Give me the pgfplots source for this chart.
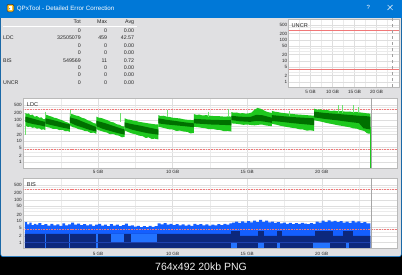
\documentclass[border=0pt]{standalone}
\usepackage{fontspec}
\setmainfont{Liberation Sans}
\usepackage{pgfplots}
\pgfplotsset{compat=1.18}
\definecolor{winblue}{RGB}{0,120,215}
\definecolor{body}{RGB}{224,224,226}
\definecolor{ldclight}{RGB}{30,200,30}
\definecolor{ldcdark}{RGB}{0,112,0}
\definecolor{ldcspike}{RGB}{110,225,110}
\definecolor{bisblue}{RGB}{20,95,255}
\definecolor{bisnavy}{RGB}{12,40,125}
\definecolor{bisbright}{RGB}{35,115,255}
\definecolor{bisline}{RGB}{30,65,175}
\definecolor{gridc}{RGB}{222,222,222}
\definecolor{gridm}{RGB}{235,235,235}
\definecolor{redl}{RGB}{240,120,120}
\definecolor{iconyellow}{RGB}{255,196,40}
\newcommand\fs[1]{\fontsize{#1}{#1}\selectfont}
\newcommand\rect[5]{\addplot[fill=#1,draw=none] coordinates {(#2,#4)(#2,#5)(#3,#5)(#3,#4)};}
\begin{document}
\begin{tikzpicture}[x=1pt,y=1pt]
\useasboundingbox (0,0) rectangle (402,275);
\fill[black] (0,0) rectangle (402,275);
\filldraw[fill=body, draw=winblue, line width=0.6pt, rounded corners=2.5pt] (0.6,18.3) rectangle (401.4,274);
\fill[winblue] (0,257) rectangle (402,275);
% icon
\filldraw[fill=iconyellow, draw=black!80, line width=0.5pt, rounded corners=1.2pt] (7,263.2) rectangle (13.8,270.6);
\fill[white] (8.6,265) rectangle (12.2,268.6);
\fill[black!80] (9.6,266.2) circle (0.5);
\node[anchor=base west, text=white, font=\fs{6.2}, inner sep=0pt] at (16.7,264.5) {QPxTool - Detailed Error Correction};
\node[text=white, font=\fs{6}, inner sep=0pt] at (368.3,267.5) {?};
\draw[white, line width=0.5pt] (387.6,265) -- (392.6,270) (387.6,270) -- (392.6,265);
% table
\draw[white, line width=0.6pt] (3,248.8) -- (137,248.8);
\begin{scope}[font=\fs{5.3}, text=black!85, inner sep=0pt]
\node[anchor=base east] at (81,251.4) {Tot};
\node[anchor=base east] at (107.3,251.4) {Max};
\node[anchor=base east] at (134.3,251.4) {Avg};
\foreach \yy/\lab/\tot/\mx/\av in {242.4//0/0/0.00, 235.1/LDC/32505079/459/42.57, 227.8//0/0/0.00, 220.4//0/0/0.00, 212.8/BIS/549569/11/0.72, 205.4//0/0/0.00, 198.1//0/0/0.00, 190.8/UNCR/0/0/0.00}{
 \node[anchor=base west] at (3,\yy) {\lab};
 \node[anchor=base east] at (81,\yy) {\tot};
 \node[anchor=base east] at (107.3,\yy) {\mx};
 \node[anchor=base east] at (134.3,\yy) {\av};
}
\end{scope}
% caption
\node[text=gray!12, font=\fs{10.5}, inner sep=0pt] at (201,8.5) {764x492 20kb PNG};
% UNCR
\begin{axis}[scale only axis, anchor=south west, at={(288.5pt,187.7pt)}, width=110.5pt, height=68.3pt,
 ymode=log, xmin=0, xmax=25.1, ymin=0.55, ymax=1000,
 axis background/.style={fill=white},
 xtick={5,10,15,20}, xticklabels={5 GB,10 GB,15 GB,20 GB},
 minor xtick={2.5,7.5,12.5,17.5,22.5},
 ytick={1,2,5,10,20,50,100,200,500}, yticklabels={1,2,5,10,20,50,100,200,500},
 minor ytick={3,4,30,40,300,400},
 xmajorgrids, xminorgrids, ymajorgrids, yminorgrids,
 major grid style={gridc, line width=0.35pt},
 minor grid style={gridm, line width=0.3pt},
 major tick length=0pt, minor tick length=0pt,
 axis line style={draw=gray!55, line width=0.4pt},
 ticklabel style={font=\fs{4.6}, text=black!85},
 xticklabel style={inner sep=0pt, anchor=north, yshift=-3.2pt},
 yticklabel style={inner sep=0pt, xshift=-1pt},
 /pgf/number format/assume math mode=true]
\addplot[redl, line width=0.45pt] coordinates {(0,300)(25.1,300)};
\addplot[redl, line width=0.45pt] coordinates {(0,4)(25.1,4)};
\addplot[gray!75, dashed, line width=0.45pt] coordinates {(23.45,0.3)(23.45,2000)};
\node[anchor=north west, inner sep=0pt, font=\fs{5.6}, text=black!85, xshift=3pt, yshift=-4pt] at (rel axis cs:0,1) {UNCR};
\end{axis}
% LDC
\begin{axis}[scale only axis, anchor=south west, at={(23.5pt,107.1pt)}, width=373.5pt, height=69.4pt,
 ymode=log, xmin=0, xmax=25.05, ymin=0.55, ymax=1000,
 axis background/.style={fill=white},
 xtick={5,10,15,20}, xticklabels={5 GB,10 GB,15 GB,20 GB},
 minor xtick={2.5,7.5,12.5,17.5,22.5},
 ytick={1,2,5,10,20,50,100,200,500}, yticklabels={1,2,5,10,20,50,100,200,500},
 minor ytick={3,4,30,40,300,400},
 xmajorgrids, xminorgrids, ymajorgrids, yminorgrids,
 major grid style={gridc, line width=0.35pt},
 minor grid style={gridm, line width=0.3pt},
 major tick length=0pt, minor tick length=0pt,
 axis line style={draw=gray!55, line width=0.4pt},
 ticklabel style={font=\fs{4.6}, text=black!85},
 xticklabel style={inner sep=0pt, anchor=north, yshift=-2.6pt},
 yticklabel style={inner sep=0pt, xshift=-1.6pt},
 /pgf/number format/assume math mode=true]
\addplot[redl, dash pattern=on 1pt off 0.6pt, line width=0.5pt] coordinates {(0,300)(25.05,300)};
\addplot[redl, dash pattern=on 1pt off 0.6pt, line width=0.5pt] coordinates {(0,4)(25.05,4)};
% light band
\addplot[fill=ldclight, draw=none] coordinates {(0.12,210)(0.25,190)(0.35,200)(0.45,165)(0.6,175)(0.75,140)(0.9,150)(1.05,125)(1.2,130)(1.35,105)(1.46,110)(1.46,33)(1.35,36)(1.2,34)(1.05,40)(0.9,38)(0.75,44)(0.6,42)(0.45,48)(0.3,46)(0.12,55)};
\addplot[fill=ldclight, draw=none] coordinates {(1.46,175)(1.6,165)(1.75,150)(1.9,140)(2.05,125)(2.2,120)(2.4,105)(2.6,95)(2.8,80)(2.95,75)(3.11,65)(3.11,27)(2.95,30)(2.8,29)(2.6,34)(2.4,33)(2.2,38)(2.0,37)(1.8,42)(1.6,45)(1.46,50)};
\addplot[fill=ldclight, draw=none] coordinates {(3.11,200)(3.3,180)(3.5,160)(3.7,150)(3.9,125)(4.1,115)(4.3,95)(4.5,85)(4.7,70)(4.89,65)(4.89,22)(4.7,25)(4.5,24)(4.3,29)(4.1,30)(3.9,34)(3.7,36)(3.5,42)(3.3,45)(3.11,55)};
\addplot[fill=ldclight, draw=none] coordinates {(4.89,140)(5.05,125)(5.25,120)(5.45,105)(5.65,95)(5.85,80)(6.05,75)(6.25,62)(6.45,58)(6.6,50)(6.78,48)(6.78,16)(6.6,15)(6.4,18)(6.2,19)(6.0,22)(5.8,21)(5.6,25)(5.4,27)(5.2,30)(5.0,33)(4.89,38)};
\addplot[fill=ldclight, draw=none] coordinates {(6.78,118)(6.95,105)(7.15,100)(7.35,92)(7.55,88)(7.75,80)(8.0,75)(8.25,70)(8.5,66)(8.75,62)(9.04,60)(9.04,12)(8.8,13)(8.6,12.5)(8.4,15)(8.2,14)(8.0,17)(7.75,18)(7.5,21)(7.25,23)(7.0,27)(6.78,32)};
\addplot[fill=ldclight, draw=none] coordinates {(9.04,165)(9.2,150)(9.4,155)(9.6,140)(9.8,135)(10.0,125)(10.25,120)(10.5,115)(10.75,105)(11.0,100)(11.2,98)(11.42,95)(11.42,24)(11.2,23)(11.0,27)(10.75,28)(10.5,31)(10.25,30)(10.0,35)(9.75,36)(9.5,40)(9.25,44)(9.04,47)};
\addplot[fill=ldclight, draw=none] coordinates {(11.42,185)(11.6,170)(11.8,175)(12.0,160)(12.25,165)(12.5,155)(12.75,150)(13.0,150)(13.25,145)(13.5,140)(13.75,145)(13.94,140)(13.94,28)(13.7,30)(13.45,29)(13.2,33)(12.95,34)(12.7,37)(12.45,36)(12.2,40)(11.95,42)(11.7,45)(11.42,47)};
\addplot[fill=ldclight, draw=none] coordinates {(13.94,230)(14.1,215)(14.3,220)(14.5,200)(14.7,205)(14.9,195)(15.1,200)(15.3,220)(15.5,300)(15.7,360)(15.9,330)(16.1,280)(16.3,240)(16.5,220)(16.66,210)(16.66,50)(16.45,52)(16.2,55)(16.0,60)(15.75,58)(15.5,55)(15.25,57)(15.0,60)(14.75,58)(14.5,62)(14.25,65)(13.94,68)};
\addplot[fill=ldclight, draw=none] coordinates {(16.66,260)(16.85,240)(17.05,230)(17.25,215)(17.5,205)(17.75,195)(18.0,190)(18.25,180)(18.5,175)(18.75,170)(19.0,165)(19.25,160)(19.5,155)(19.5,30)(19.25,32)(19.0,31)(18.75,35)(18.5,36)(18.25,40)(18.0,42)(17.75,45)(17.5,48)(17.25,52)(17.0,58)(16.66,65)};
\addplot[fill=ldclight, draw=none] coordinates {(19.5,330)(19.7,300)(19.9,310)(20.1,280)(20.35,290)(20.6,260)(20.85,270)(21.1,250)(21.35,255)(21.6,240)(21.85,245)(22.1,230)(22.35,235)(22.6,220)(22.85,210)(23.05,200)(23.27,195)(23.27,22)(23.05,23)(22.85,30)(22.6,33)(22.35,38)(22.1,40)(21.85,45)(21.6,48)(21.35,52)(21.1,55)(20.85,60)(20.6,65)(20.35,70)(20.1,78)(19.85,85)(19.5,95)};
% dark band
\addplot[fill=ldcdark, draw=none] coordinates {(0.12,140)(0.5,120)(0.9,100)(1.2,88)(1.46,80)(1.46,48)(1.1,55)(0.7,62)(0.3,72)(0.12,80)};
\addplot[fill=ldcdark, draw=none] coordinates {(1.46,117)(1.9,100)(2.3,85)(2.7,70)(3.11,60)(3.11,37)(2.6,43)(2.1,52)(1.7,60)(1.46,68)};
\addplot[fill=ldcdark, draw=none] coordinates {(3.11,130)(3.6,105)(4.0,80)(4.5,58)(4.89,45)(4.89,28)(4.4,34)(3.9,45)(3.5,55)(3.11,75)};
\addplot[fill=ldcdark, draw=none] coordinates {(4.89,90)(5.4,72)(5.9,55)(6.4,42)(6.78,35)(6.78,20)(6.3,24)(5.8,30)(5.3,38)(4.89,50)};
\addplot[fill=ldcdark, draw=none] coordinates {(6.78,75)(7.3,62)(7.9,52)(8.5,42)(9.04,35)(9.04,20)(8.4,23)(7.8,28)(7.3,34)(6.78,45)};
\addplot[fill=ldcdark, draw=none] coordinates {(9.04,117)(9.6,100)(10.2,88)(10.8,76)(11.42,68)(11.42,45)(10.8,50)(10.2,55)(9.6,60)(9.04,68)};
\addplot[fill=ldcdark, draw=none] coordinates {(11.42,110)(12.0,105)(12.6,100)(13.3,97)(13.94,95)(13.94,55)(13.3,58)(12.6,60)(12.0,64)(11.42,68)};
\addplot[fill=ldcdark, draw=none] coordinates {(13.94,155)(14.5,140)(15.2,135)(15.6,170)(16.0,165)(16.66,125)(16.66,72)(16.0,85)(15.6,88)(15.2,80)(14.5,85)(13.94,97)};
\addplot[fill=ldcdark, draw=none] coordinates {(16.66,166)(17.3,150)(18.0,135)(18.8,125)(19.5,117)(19.5,56)(18.8,62)(18.0,70)(17.3,80)(16.66,88)};
\addplot[fill=ldcdark, draw=none] coordinates {(19.5,240)(20.2,210)(21.0,190)(21.8,170)(22.5,155)(22.9,150)(23.27,140)(23.27,35)(22.8,40)(22.5,70)(21.8,80)(21.0,95)(20.2,110)(19.5,130)};
% spikes
\addplot[ldcspike, line width=0.5pt, unbounded coords=jump] coordinates {(0.12,20)(0.12,60) (nan,nan) (1.48,240)(1.48,120) (nan,nan) (3.15,290)(3.15,150) (nan,nan) (6.5,200)(6.5,80) (nan,nan) (9.64,290)(9.64,130) (nan,nan) (12.4,240)(12.4,140) (nan,nan) (13.74,330)(13.74,140) (nan,nan) (17.8,260)(17.8,150) (nan,nan) (21.1,490)(21.1,200) (nan,nan) (21.4,480)(21.4,200) (nan,nan) (22.1,490)(22.1,200) (nan,nan) (22.45,400)(22.45,200)};
\addplot[gray!70, line width=0.5pt] coordinates {(23.3,0.3)(23.3,2000)};
\addplot[ldclight, line width=0.6pt] coordinates {(23.27,45)(23.27,0.3)};
\node[anchor=north west, inner sep=0pt, font=\fs{5.6}, text=black!85, xshift=3.2pt, yshift=-4.2pt] at (rel axis cs:0,1) {LDC};
\end{axis}
% BIS
\begin{axis}[scale only axis, anchor=south west, at={(23.5pt,27pt)}, width=373.5pt, height=69.5pt,
 ymode=log, xmin=0, xmax=25.05, ymin=0.55, ymax=1000,
 axis background/.style={fill=white},
 xtick={5,10,15,20}, xticklabels={5 GB,10 GB,15 GB,20 GB},
 minor xtick={2.5,7.5,12.5,17.5,22.5},
 ytick={1,2,5,10,20,50,100,200,500}, yticklabels={1,2,5,10,20,50,100,200,500},
 minor ytick={3,4,30,40,300,400},
 xmajorgrids, xminorgrids, ymajorgrids, yminorgrids,
 major grid style={gridc, line width=0.35pt},
 minor grid style={gridm, line width=0.3pt},
 major tick length=0pt, minor tick length=0pt,
 axis line style={draw=gray!55, line width=0.4pt},
 ticklabel style={font=\fs{4.6}, text=black!85},
 xticklabel style={inner sep=0pt, anchor=north, yshift=-4.2pt},
 yticklabel style={inner sep=0pt, xshift=-1.6pt},
 /pgf/number format/assume math mode=true]
\addplot[redl, dash pattern=on 1pt off 0.6pt, line width=0.5pt] coordinates {(0,300)(25.05,300)};
\addplot[fill=bisblue, draw=none, const plot] coordinates {(0.1,9)(0.25,7)(0.4,8.5)(0.55,6.5)(0.7,7.5)(0.85,6.8)(1.0,8)(1.2,6.5)(1.4,7.2)(1.6,6.2)(1.8,7.5)(2.0,6.4)(2.2,7)(2.4,6)(2.6,7.8)(2.8,6.3)(3.0,7)(3.2,8.5)(3.4,6.8)(3.6,7.6)(3.8,6.5)(4.0,7.2)(4.2,6.3)(4.4,7)(4.6,6)(4.8,6.8)(5.0,7.4)(5.2,6.2)(5.4,6.8)(5.6,5.9)(5.8,7.2)(6.0,6.1)(6.2,6.8)(6.4,5.8)(6.6,6.5)(6.8,7.6)(7.0,6)(7.2,6.4)(7.4,5.5)(7.6,6)(7.8,5.3)(8.0,5.8)(8.2,5.2)(8.4,6)(8.6,5.4)(8.8,5.8)(9.0,7.8)(9.2,7)(9.4,8)(9.6,6.8)(9.8,7.5)(10.0,6.5)(10.2,7.2)(10.4,6.3)(10.6,7)(10.8,6.2)(11.0,6.8)(11.2,6)(11.4,7.5)(11.6,6.6)(11.8,7.2)(12.0,6.4)(12.2,7)(12.4,6.2)(12.6,6.9)(12.8,6.3)(13.0,7.2)(13.2,6.5)(13.4,7.4)(13.6,6.8)(13.8,7.8)(14.0,8.5)(14.2,9.5)(14.4,8.2)(14.6,9.8)(14.8,8.6)(15.0,10)(15.2,8.8)(15.4,10.5)(15.6,9)(15.8,11.5)(16.0,9.2)(16.2,10.5)(16.4,8.8)(16.6,9.5)(16.8,8.2)(17.0,9)(17.2,7.8)(17.4,8.5)(17.6,7.5)(17.8,8.2)(18.0,7.2)(18.2,8)(18.4,7.4)(18.6,8.3)(18.8,7.6)(19.0,7.2)(19.2,8)(19.4,7.5)(19.6,9.5)(19.8,8.6)(20.0,10.5)(20.2,9)(20.4,11)(20.6,9.4)(20.8,10.2)(21.0,9)(21.2,10)(21.4,8.6)(21.6,9.6)(21.8,8.4)(22.0,10.4)(22.2,8.8)(22.4,9.8)(22.6,8.2)(22.8,9)(23.0,7.8)(23.27,8.2)(23.27,0.3)(0.1,0.3)};
\addplot[fill=bisnavy, draw=none] coordinates {(0.1,0.3)(0.1,2.5)(13.94,2.5)(13.94,2.05)(23.27,2.05)(23.27,0.3)};
\rect{bisbright}{1.43}{1.5}{0.3}{2.5}
\rect{bisbright}{3.08}{3.15}{0.3}{2.5}
\rect{bisbright}{4.84}{4.98}{0.3}{2.5}
\rect{bisbright}{5.9}{6.75}{1.05}{2.5}
\rect{bisbright}{7.2}{8.97}{1.05}{2.5}
\rect{bisbright}{13.95}{14.3}{0.3}{0.98}
\rect{bisbright}{15.7}{16.1}{0.3}{0.98}
\rect{bisbright}{17.0}{17.2}{0.3}{0.98}
\rect{bisbright}{19.4}{20.55}{0.3}{0.98}
\rect{bisbright}{21.6}{21.8}{0.3}{0.98}
\rect{bisnavy}{13.95}{14.5}{2.05}{3.3}
\rect{bisnavy}{15.75}{16.1}{2.05}{3.3}
\rect{bisnavy}{17.0}{17.35}{2.05}{3.3}
\rect{bisnavy}{19.55}{20.75}{2.05}{3.3}
\rect{bisnavy}{21.4}{22.1}{2.05}{3.3}
\addplot[bisline, line width=0.35pt] coordinates {(0.1,1.0)(23.27,1.0)};
\addplot[redl, dash pattern=on 1pt off 0.6pt, line width=0.5pt] coordinates {(0,4)(25.05,4)};
\addplot[gray!70, line width=0.5pt] coordinates {(23.3,0.3)(23.3,2000)};
\node[anchor=north west, inner sep=0pt, font=\fs{5.6}, text=black!85, xshift=3.2pt, yshift=-4pt] at (rel axis cs:0,1) {BIS};
\end{axis}
\end{tikzpicture}
\end{document}
